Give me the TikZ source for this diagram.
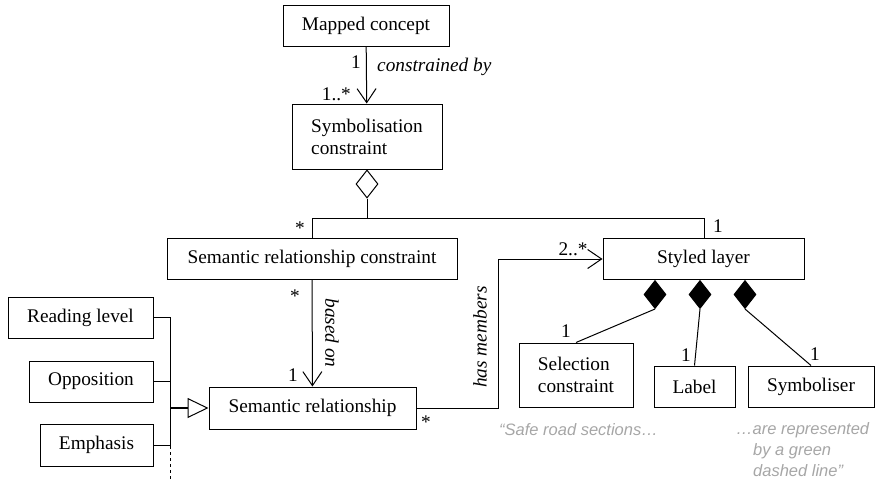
\documentclass[tikz,border=0pt]{standalone}
\usepackage{fontspec}
\setmainfont{Liberation Serif}
\newfontfamily\grayfont{Liberation Sans}
\usetikzlibrary{arrows.meta,shapes.geometric}
\begin{document}
\begin{tikzpicture}[x=1pt,y=-1pt,
  every node/.style={font=\fontsize{19.3}{22}\selectfont},
  cls/.style={draw,line width=1pt,inner sep=0pt,minimum height=41pt},
  conn/.style={line width=1pt},
  barb/.style={conn,-{Straight Barb[length=14pt,width=19pt,line width=1pt]}},
  odia/.style={draw,line width=1pt,shape=diamond,inner sep=0pt,minimum width=22pt,minimum height=28pt,fill=white},
  fdia/.style={odia,fill=black},
  mult/.style={inner sep=0pt},
  role/.style={inner sep=0pt,font=\fontsize{19.3}{22}\selectfont\itshape},
  note/.style={inner sep=0pt,anchor=west,text=black!35,font=\fontsize{16.5}{20}\selectfont\grayfont\itshape}]
\useasboundingbox (0,0) rectangle (877,482);
% classes
\node[cls,minimum width=166pt] (mc) at (366,25.5) {Mapped concept};
\node[cls,minimum width=150pt,minimum height=65pt,align=left] (sc) at (367,136.5) {Symbolisation\\constraint};
\node[cls,minimum width=290pt] (src) at (312,258.5) {Semantic relationship constraint};
\node[cls,minimum width=201pt] (sl) at (703.5,259) {Styled layer};
\node[cls,minimum width=207pt,minimum height=42pt] (sr) at (312.5,408) {Semantic relationship};
\node[cls,minimum width=145pt] (rl) at (80.5,317.5) {Reading level};
\node[cls,minimum width=124pt] (op) at (91,381.5) {Opposition};
\node[cls,minimum width=113pt,minimum height=42pt] (em) at (96.5,445) {Emphasis};
\node[cls,minimum width=114pt,minimum height=64pt,align=left] (sel) at (576,375) {Selection\\constraint};
\node[cls,minimum width=81pt] (lab) at (694.5,386.5) {Label};
\node[cls,minimum width=126pt] (sym) at (811,386.5) {Symboliser};
% mapped concept -> symbolisation constraint
\draw[barb] (mc) -- (sc);
\node[mult,anchor=east] at (361,62) {1};
\node[role,anchor=west] at (377,67) {constrained by};
\node[mult,anchor=east] at (351,94) {1..*};
% aggregation
\node[odia,anchor=north] (agg) at (sc.south) {};
\coordinate (j0) at (367,218);
\coordinate (jl) at (312,218);
\coordinate (jr) at (704,218);
\draw[conn] (agg.south) -- (j0);
\draw[conn] (src.north) -- (jl) -- (jr) -- (sl.north -| jr);
\node[mult] at (300,228) {*};
\node[mult] at (718,226) {1};
% based on
\draw[barb] (src) -- (sr);
\node[mult] at (295,296) {*};
\node[mult] at (293,375) {1};
\node[role,rotate=-90] at (332,333) {based on};
% has members
\coordinate (hm1) at (498,408);
\coordinate (hm2) at (498,259);
\draw[barb] (sr.east) -- (hm1) -- (hm2) -- (sl.west);
\node[role,rotate=90] at (480,337) {has members};
\node[mult] at (426,422) {*};
\node[mult] at (573,249) {2..*};
% generalisation
\coordinate (gtop) at (170,317.5);
\coordinate (gj) at (170,408);
\coordinate (gbot) at (170,446);
\coordinate (gend) at (170,482);
\draw[conn] (rl.east) -- (gtop) -- (gbot);
\draw[conn,dashed] (gbot) -- (gend);
\draw[conn] (op.east) -- (op.east -| gtop);
\draw[conn] (em.east) -- (em.east -| gtop);
\draw[conn,line width=1.5pt,-{Triangle[open,length=21pt,width=20pt,line width=1pt]}] (gj) -- (sr.west);
% compositions
\node[fdia,anchor=north] (d1) at (655,280) {};
\node[fdia,anchor=north] (d2) at (700,280) {};
\node[fdia,anchor=north] (d3) at (745,280) {};
\draw[conn] (d1.south) -- (sel.north);
\draw[conn] (d2.south) -- (lab.north);
\draw[conn] (d3.south) -- (sym.north);
\node[mult] at (566,331) {1};
\node[mult] at (686,355) {1};
\node[mult] at (815,354) {1};
% notes
\node[note] (n1) at (499,430) {“Safe road sections…};
\node[note] (n2) at (736,430) {…are represented};
\node[note] (n3) at (753,451) {by a green};
\node[note] (n4) at (753,471) {dashed line”};
\end{tikzpicture}
\end{document}
